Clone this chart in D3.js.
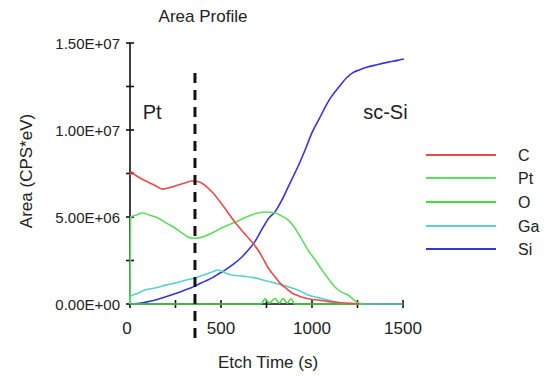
<!DOCTYPE html>
<html>
<head>
<meta charset="utf-8">
<script src="https://cdn.jsdelivr.net/npm/d3@7"></script>
<style>
  html, body { margin: 0; padding: 0; background: #fff; }
  svg { display: block; }
  text { font-family: "Liberation Sans", Arial, sans-serif; fill: #222; }
</style>
</head>
<body>
<svg id="chart" width="547" height="376"></svg>
<script>
// ---- data (values in CPS*eV, time in s) ----
const seriesNames = ["C", "Pt", "O", "Ga", "Si"];
const seriesColors = ["#ec4a4a", "#5ede5e", "#3fdc3f", "#5ccfcf", "#3535dc"];

const cTime = [0, 8, 30, 55, 100, 140, 181, 220, 264, 300, 340, 385, 420, 456, 500, 577, 620, 670, 710, 742, 758, 790, 824, 860, 890, 930, 962, 1020, 1071, 1130, 1181, 1230, 1260];
const cVal  = [7.4e6, 7.59e6, 7.4e6, 7.24e6, 7.0e6, 6.8e6, 6.6e6, 6.7e6, 6.84e6, 6.95e6, 7.07e6, 7.0e6, 6.75e6, 6.38e6, 5.8e6, 4.7e6, 4.15e6, 3.56e6, 3.0e6, 2.4e6, 2.1e6, 1.65e6, 1.2e6, 0.88e6, 0.63e6, 0.45e6, 0.34e6, 0.24e6, 0.17e6, 0.1e6, 0.06e6, 0.02e6, 0];

const ptTime = [0, 3, 30, 71, 110, 154, 200, 247, 290, 319, 350, 374, 410, 451, 500, 577, 640, 703, 742, 797, 835, 868, 900, 923, 950, 978, 1020, 1055, 1090, 1126, 1160, 1198, 1247, 1280];
const ptVal  = [0, 5.0e6, 5.1e6, 5.23e6, 5.1e6, 4.94e6, 4.65e6, 4.37e6, 4.05e6, 3.85e6, 3.78e6, 3.8e6, 3.9e6, 4.08e6, 4.35e6, 4.7e6, 5.0e6, 5.23e6, 5.29e6, 5.23e6, 5.05e6, 4.83e6, 4.45e6, 4.08e6, 3.6e6, 3.1e6, 2.5e6, 1.95e6, 1.45e6, 0.98e6, 0.7e6, 0.52e6, 0.1e6, 0];

const oTime = [0, 720, 742, 765, 797, 820, 841, 863, 885, 905, 1290];
const oVal  = [0, 0, 0.3e6, 0.05e6, 0.32e6, 0.05e6, 0.32e6, 0.05e6, 0.3e6, 0, 0];

const gaTime = [0, 3, 40, 82, 150, 200, 247, 300, 357, 400, 451, 484, 520, 560, 620, 687, 740, 797, 850, 890, 940, 978, 1030, 1088, 1130, 1165, 1220, 1270, 1500];
const gaVal  = [0, 0.45e6, 0.6e6, 0.8e6, 0.95e6, 1.1e6, 1.2e6, 1.35e6, 1.5e6, 1.65e6, 1.84e6, 1.95e6, 1.8e6, 1.67e6, 1.6e6, 1.5e6, 1.35e6, 1.2e6, 1.05e6, 0.92e6, 0.72e6, 0.52e6, 0.38e6, 0.23e6, 0.12e6, 0.06e6, 0.02e6, 0, 0];

const siTime = [0, 40, 82, 130, 192, 250, 302, 340, 368, 410, 451, 490, 522, 570, 615, 650, 687, 725, 742, 760, 797, 835, 868, 900, 923, 962, 1000, 1040, 1099, 1150, 1190, 1225, 1260, 1300, 1357, 1420, 1470, 1505];
const siVal  = [0, 0.02e6, 0.1e6, 0.2e6, 0.4e6, 0.6e6, 0.8e6, 0.95e6, 1.09e6, 1.3e6, 1.5e6, 1.75e6, 1.95e6, 2.3e6, 2.7e6, 3.1e6, 3.6e6, 4.3e6, 4.6e6, 4.9e6, 5.3e6, 5.98e6, 6.7e6, 7.4e6, 7.9e6, 8.85e6, 9.85e6, 10.65e6, 11.8e6, 12.5e6, 13.0e6, 13.3e6, 13.45e6, 13.6e6, 13.75e6, 13.9e6, 14.0e6, 14.08e6];

const xTicks = [0, 250, 500, 750, 1000, 1250, 1500];
const xTickLabels = ["0", "", "500", "", "1000", "", "1500"];
const yTicks = [0, 2.5e6, 5e6, 7.5e6, 1e7, 1.25e7, 1.5e7];
const yTickLabels = ["0.00E+00", "", "5.00E+06", "", "1.00E+07", "", "1.50E+07"];

const markerTime = 357; // dashed boundary between Pt layer and sc-Si

const titleText = "Area Profile";
const xTitle = "Etch Time (s)";
const yTitle = "Area (CPS*eV)";
const regionLabels = [{text: "Pt", t: 70}, {text: "sc-Si", t: 1281}];

// ---- drawing ----
const svg = d3.select("#chart");
const x = d3.scaleLinear().domain([0, 1500]).range([130, 403]);
const y = d3.scaleLinear().domain([0, 1.5e7]).range([304, 43]);

// title
svg.append("text").attr("x", 203).attr("y", 22).attr("text-anchor", "middle")
  .style("font-size", "17px").text(titleText);

// axes lines
svg.append("line").attr("x1", x(0)).attr("x2", x(0)).attr("y1", y(1.5e7)).attr("y2", y(0))
  .attr("stroke", "#111").attr("stroke-width", 1.6);
svg.append("line").attr("x1", x(0)).attr("x2", x(1500)).attr("y1", y(0)).attr("y2", y(0))
  .attr("stroke", "#111").attr("stroke-width", 1.6);

// y ticks
yTicks.forEach((v, i) => {
  svg.append("line").attr("x1", x(0) - 4).attr("x2", x(0) + 4).attr("y1", y(v)).attr("y2", y(v))
    .attr("stroke", "#111").attr("stroke-width", 1.6);
  if (yTickLabels[i]) {
    svg.append("text").attr("x", 120).attr("y", y(v) + 5.5).attr("text-anchor", "end")
      .style("font-size", "15px").text(yTickLabels[i]);
  }
});
// x ticks
xTicks.forEach((t, i) => {
  svg.append("line").attr("x1", x(t)).attr("x2", x(t)).attr("y1", y(0) - 4).attr("y2", y(0) + 4)
    .attr("stroke", "#111").attr("stroke-width", 1.6);
  if (xTickLabels[i]) {
    svg.append("text").attr("x", x(t) - (t === 0 ? 3 : 0)).attr("y", 334).attr("text-anchor", "middle")
      .style("font-size", "17px").text(xTickLabels[i]);
  }
});

// axis titles
svg.append("text").attr("x", 268).attr("y", 368).attr("text-anchor", "middle")
  .style("font-size", "17px").text(xTitle);
svg.append("text").attr("transform", "translate(32,171) rotate(-90)").attr("text-anchor", "middle")
  .style("font-size", "17px").text(yTitle);

// series lines
const seriesData = {
  C: cTime.map((t, i) => [t, cVal[i]]),
  Pt: ptTime.map((t, i) => [t, ptVal[i]]),
  O: oTime.map((t, i) => [t, oVal[i]]),
  Ga: gaTime.map((t, i) => [t, gaVal[i]]),
  Si: siTime.map((t, i) => [t, siVal[i]])
};
const line = d3.line().x(d => x(d[0])).y(d => y(d[1])).curve(d3.curveMonotoneX);
const drawOrder = ["Si", "Ga", "Pt", "O", "C"];
drawOrder.forEach(name => {
  const idx = seriesNames.indexOf(name);
  svg.append("path").datum(seriesData[name]).attr("d", line)
    .attr("fill", "none").attr("stroke", seriesColors[idx]).attr("stroke-width", 1.6)
    .attr("stroke-linejoin", "round");
});

// dashed marker
svg.append("line").attr("x1", x(markerTime)).attr("x2", x(markerTime)).attr("y1", 73).attr("y2", 338)
  .attr("stroke", "#111").attr("stroke-width", 3).attr("stroke-dasharray", "10,7");

// region labels
regionLabels.forEach(r => {
  svg.append("text").attr("x", x(r.t)).attr("y", 119).attr("text-anchor", "start")
    .style("font-size", "20px").text(r.text);
});

// legend
const legendY = [155, 178, 202, 226, 249];
seriesNames.forEach((name, i) => {
  svg.append("line").attr("x1", 426).attr("x2", 496).attr("y1", legendY[i]).attr("y2", legendY[i])
    .attr("stroke", seriesColors[i]).attr("stroke-width", 2.2);
  svg.append("text").attr("x", 518).attr("y", legendY[i] + 5.5)
    .style("font-size", "16px").text(name);
});
</script>
</body>
</html>
